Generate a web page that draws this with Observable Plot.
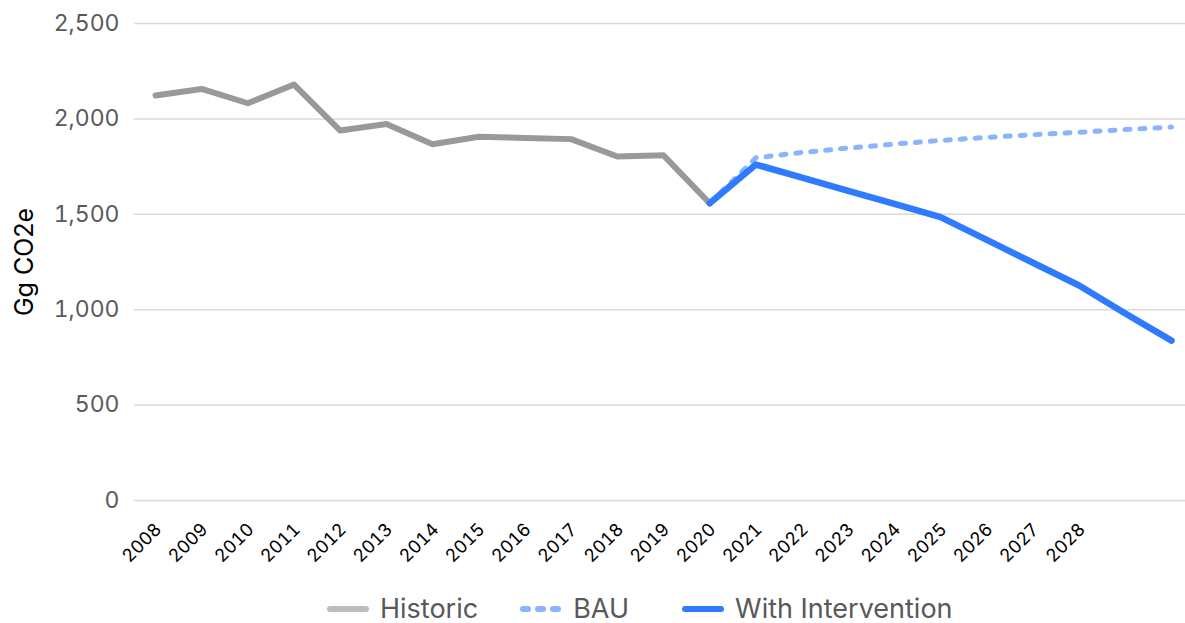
<!DOCTYPE html>
<html>
<head>
<meta charset="utf-8">
<script src="https://cdn.jsdelivr.net/npm/d3@7"></script>
<script src="https://cdn.jsdelivr.net/npm/@observablehq/plot@0.6"></script>
<style>
  html, body { margin: 0; padding: 0; background: #fff; }
  body { width: 1185px; height: 623px; position: relative; overflow: hidden; font-family: Inter, "Noto Sans", sans-serif; }
  #legend { position: absolute; left: 324px; top: 593px; display: flex; align-items: center; font-size: 27px; color: #595959; line-height: 32px; }
  .item { display: flex; align-items: center; gap: 8px; }
  .item svg { display: block; }
</style>
</head>
<body>
<div id="chart"></div>
<div id="legend"></div>
<script>
// ---- data ----
const histYears = [2008, 2009, 2010, 2011, 2012, 2013, 2014, 2015, 2016, 2017, 2018, 2019, 2020];
const histValues = [2123, 2157, 2082, 2180, 1939, 1973, 1867, 1906, 1900, 1894, 1803, 1809, 1558];
const projYears = [2020, 2021, 2022, 2023, 2024, 2025, 2026, 2027, 2028, 2029, 2030];
const bauValues = [1558, 1796, 1824, 1847, 1868, 1887, 1903, 1917, 1930, 1944, 1957];
const interventionValues = [1558, 1761, 1692, 1623, 1554, 1485, 1366, 1246, 1127, 980, 838];
const xTickLabels = [2008, 2009, 2010, 2011, 2012, 2013, 2014, 2015, 2016, 2017, 2018, 2019, 2020, 2021, 2022, 2023, 2024, 2025, 2026, 2027, 2028];
const yTicks = [0, 500, 1000, 1500, 2000, 2500];
const yLabel = "Gg CO2e";
const seriesNames = ["Historic", "BAU", "With Intervention"];
const seriesColors = ["#999999", "#8ab4ff", "#2f7bff"];

const chart = Plot.plot({
  width: 1185,
  height: 575,
  marginLeft: 134,
  marginRight: 0,
  marginTop: 23,
  marginBottom: 75,
  style: { fontFamily: "Inter, 'Noto Sans', sans-serif", background: "#fff" },
  x: { type: "linear", domain: [2007.545, 2030.303] },
  y: { domain: [0, 2500] },
  marks: [
    Plot.gridY(yTicks, { stroke: "#d9d9d9", strokeOpacity: 1, strokeWidth: 1.5 }),
    Plot.axisY(yTicks, { tickSize: 0, tickPadding: 15, tickFormat: d3.format(","), fontSize: 23, color: "#595959", label: null }),
    Plot.axisX(xTickLabels, { tickSize: 0, tickPadding: 26, tickRotate: -45, tickFormat: d => String(d), fontSize: 18, color: "#000", label: null, dx: 3 }),
    Plot.text([yLabel], { frameAnchor: "left", textAnchor: "middle", lineAnchor: "middle", rotate: -90, dx: -110, fontSize: 25, fill: "#000" }),
    Plot.line(histValues, { x: histYears, y: histValues, stroke: seriesColors[0], strokeWidth: 6, strokeLinecap: "round", strokeLinejoin: "round" }),
    Plot.line(bauValues, { x: projYears, y: bauValues, stroke: seriesColors[1], strokeWidth: 5, strokeLinecap: "round", strokeLinejoin: "round", strokeDasharray: "5,10" }),
    Plot.line(interventionValues, { x: projYears, y: interventionValues, stroke: seriesColors[2], strokeWidth: 6.5, strokeLinecap: "round", strokeLinejoin: "round" })
  ]
});
document.getElementById("chart").appendChild(chart);

// ---- legend ----
const legend = document.getElementById("legend");
const swatchStyles = [
  { color: "#bdbdbd", dash: null, gapBefore: 0 },
  { color: seriesColors[1], dash: "5,10", gapBefore: 39 },
  { color: seriesColors[2], dash: null, gapBefore: 50 }
];
seriesNames.forEach((name, i) => {
  const item = document.createElement("div");
  item.className = "item";
  const s = swatchStyles[i];
  item.style.marginLeft = s.gapBefore + "px";
  item.innerHTML = `<svg width="48" height="10"><line x1="6" y1="5" x2="42" y2="5" stroke="${s.color}" stroke-width="6" stroke-linecap="round" ${s.dash ? `stroke-dasharray="${s.dash}"` : ""}/></svg><span>${name}</span>`;
  legend.appendChild(item);
});
</script>
</body>
</html>
